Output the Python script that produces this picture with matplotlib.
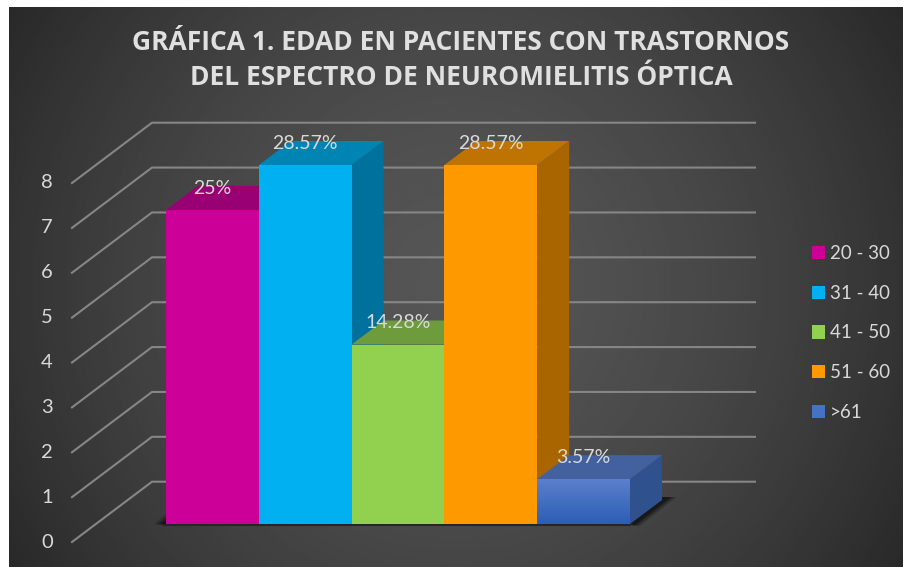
import numpy as np
import matplotlib
matplotlib.use("Agg")
import matplotlib.pyplot as plt
from matplotlib.patches import Polygon

categories = ["20 - 30", "31 - 40", "41 - 50", "51 - 60", ">61"]
values = [7, 8, 4, 8, 1]
percent_labels = ["25%", "28.57%", "14.28%", "28.57%", "3.57%"]
front_colors = ["#cc0099", "#00b0f0", "#92d050", "#ff9900", "#4472c4"]
top_colors = ["#990073", "#0084b4", "#6e9c3c", "#bf7300", "#43619f"]
side_colors = ["#990073", "#00709c", "#6e9c3c", "#a86500", "#2f528f"]
y_ticks = [0, 1, 2, 3, 4, 5, 6, 7, 8]
title_lines = "GRÁFICA 1. EDAD EN PACIENTES CON TRASTORNOS\nDEL ESPECTRO DE NEUROMIELITIS ÓPTICA"

W, H = 904, 567
TEXT = "#d9d9d9"
plt.rcParams["font.family"] = ["Lato", "DejaVu Sans"]

fig = plt.figure(figsize=(W / 100, H / 100), dpi=100, facecolor="white")

# dark panel with a soft lighter centre
bg = fig.add_axes([9 / W, 0, (W - 9) / W, (H - 7) / H])
yy, xx = np.mgrid[0:1:280j, 0:1:450j]
r = np.sqrt(((xx - 0.5) / 0.62) ** 2 + ((yy - 0.5) / 1.0) ** 2)
shade = 0.335 - 0.19 * np.clip(r, 0, 1) ** 1.6
bg.imshow(shade, cmap="gray", vmin=0, vmax=1, aspect="auto")
bg.axis("off")

# axes is the front plane of the bars: one unit per bar in x, one per patient in y
left, right, top, bottom = 166, 630, 165, 524
ax = fig.add_axes([left / W, 1 - bottom / H, (right - left) / W, (bottom - top) / H])
ax.set_xlim(0, 5)
ax.set_ylim(0, 8)
ax.patch.set_alpha(0)
ax.axis("off")
ux = 5 / (right - left)
uy = 8 / (bottom - top)

# depth of the bars and of the back wall, in pixels
depth_x, depth_y = 32 * ux, 24 * uy
wall_x0, wall_x1 = (152 - left) * ux, (755 - left) * ux
wall_dy = (bottom - 481.7) * uy
front_x, front_dy = (72 - left) * ux, (bottom - 542) * uy

for v in y_ticks:
    ax.plot([front_x, wall_x0, wall_x1], [v + front_dy, v + wall_dy, v + wall_dy],
            color="#868686", lw=1.5, clip_on=False, zorder=1, solid_joinstyle="miter")
    ax.text((47 - left) * ux, v + front_dy, str(v), color=TEXT, fontsize=14.5,
            ha="center", va="center", clip_on=False)

# soft floor shadows
for grow, alpha in zip([6, 3, 0], [0.18, 0.25, 0.4]):
    ax.add_patch(Polygon([(5, 0), (5 + depth_x, depth_y + 3 * uy),
                          (5 + depth_x + (9 + grow) * ux, depth_y + 3 * uy),
                          (5 + (4 + grow) * ux, -2 * uy)],
                         closed=True, fc="black", ec="none", alpha=alpha, zorder=2, clip_on=False))
    ax.add_patch(Polygon([(-(6 + grow) * ux, 0), (0, (4 + grow) * uy), (0, -grow * 0.4 * uy)],
                         closed=True, fc="black", ec="none", alpha=alpha, zorder=2, clip_on=False))
ax.plot([-2 * ux, 5], [-1 * uy, -1 * uy], color="#262626", lw=1.5, zorder=2, clip_on=False)

handles = []
for i, (v, cat) in enumerate(zip(values, categories)):
    z = 3 + i
    side = Polygon([(i + 1, 0), (i + 1 + depth_x, depth_y), (i + 1 + depth_x, v + depth_y), (i + 1, v)],
                   closed=True, fc=side_colors[i], ec="none", zorder=z, clip_on=False)
    lid = Polygon([(i, v), (i + depth_x, v + depth_y), (i + 1 + depth_x, v + depth_y), (i + 1, v)],
                  closed=True, fc=top_colors[i], ec="none", zorder=z, clip_on=False)
    ax.add_patch(side)
    ax.add_patch(lid)
    bar = ax.bar(i + 0.5, v, width=1, color=front_colors[i], zorder=z + 0.1, clip_on=False)
    handles.append(bar[0])

# last bar fades from light to deep blue
ramp = np.linspace(0, 1, 64).reshape(-1, 1)
blue = np.array([[0.36, 0.50, 0.80]]) * (1 - ramp) + np.array([[0.17, 0.37, 0.71]]) * ramp
grad = ax.imshow(blue[:, np.newaxis, :], extent=(4, 5, 0, values[4]), aspect="auto", zorder=7.2)
grad.set_clip_path(handles[4])
ax.set_xlim(0, 5)
ax.set_ylim(0, 8)

for i, (v, lab) in enumerate(zip(values, percent_labels)):
    ax.annotate(lab, (i + 0.5, v), xytext=(0, 21.5 * 0.72), textcoords="offset points",
                color=TEXT, fontsize=14, ha="center", va="center", zorder=20, annotation_clip=False)

fig.legend(handles, categories, loc="center left", bbox_to_anchor=(812 / W, 1 - 333 / H),
           frameon=False, labelcolor=TEXT, fontsize=13.5, handlelength=0.72, handleheight=0.72,
           handletextpad=0.25, labelspacing=1.21, borderpad=0, borderaxespad=0)

fig.text(461 / W, 1 - 60 / H, title_lines, color="#e0e0e0", fontsize=19, fontweight="bold",
         family=["Open Sans", "DejaVu Sans"], ha="center", va="center", linespacing=1.39)

fig.savefig("out.png", dpi=100, facecolor=fig.get_facecolor())
